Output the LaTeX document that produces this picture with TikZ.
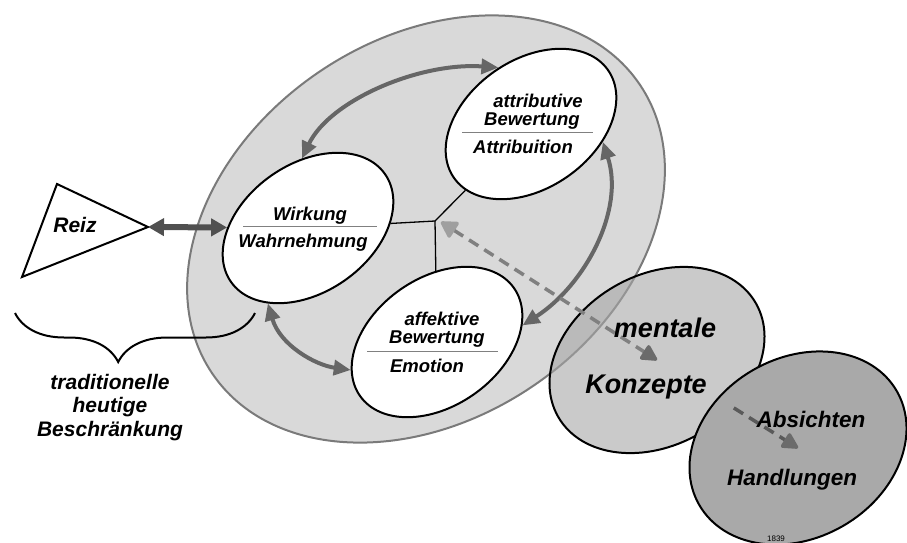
\documentclass[tikz,border=0pt]{standalone}
\usepackage{fontspec}
\setmainfont{Liberation Sans}
\usetikzlibrary{shapes.geometric,arrows.meta,decorations.pathreplacing}

\definecolor{bgell}{HTML}{D9D9D9}
\definecolor{rimgray}{HTML}{7A7A7A}
\definecolor{arcgray}{HTML}{666666}
\definecolor{reizgray}{HTML}{505050}
\definecolor{konzfill}{HTML}{A6A6A6}
\definecolor{handfill}{HTML}{A9A9A9}
\definecolor{dashgray}{HTML}{808080}
\definecolor{dashdark}{HTML}{5A5A5A}

\begin{document}
\begin{tikzpicture}[x=1pt,y=-1pt,
	ell/.style={ellipse,draw=black,line width=2pt,fill=white,inner sep=0pt,minimum width=188pt,minimum height=128pt,rotate=35},
	lbl/.style={font=\fontsize{18.5}{20}\selectfont\bfseries\itshape,anchor=base,inner sep=0pt},
	bigarc/.style={draw=arcgray,line width=4pt,{Triangle[length=17pt,width=15pt]}-{Triangle[length=17pt,width=15pt]}},
	dasharc/.style={line width=3.5pt,dash pattern=on 11pt off 7pt}]
			\useasboundingbox (0,0) rectangle (907,543);

			\node[ellipse,draw=rimgray,line width=2pt,fill=bgell,inner sep=0pt,minimum width=516pt,minimum height=380pt,rotate=34] (psyche) at (426,229) {};

			\node[ell] (wirk) at (308,228) {};
			\node[ell] (attr) at (531,124) {};
			\node[ell] (affekt) at (437,342) {};

			\coordinate (J) at (435,221);
			\draw[line width=1.3pt] (wirk) -- (J) -- (attr);
			\draw[line width=1.3pt] (J) -- (affekt);

			\draw[bigarc] (wirk.60) .. controls (330,100) and (420,62) .. (attr.85);
			\draw[bigarc] (attr.-49) .. controls (625,210) and (585,285) .. (affekt.-24);
			\draw[bigarc] (wirk.207) .. controls (280,345) and (315,365) .. (affekt.163);

			% Reiz
			\draw[line width=2pt] (57,184) -- (148,227) coordinate (reiztip) -- (22,277) -- cycle;
			\node[lbl,font=\fontsize{21}{22}\selectfont\bfseries\itshape] (reiz) at (75,232) {Reiz};
			\draw[draw=reizgray,line width=6pt,{Triangle[length=16pt,width=17pt]}-{Triangle[length=16pt,width=17pt]}] (reiztip) -- (wirk);

			\draw[line width=2pt,decorate,decoration={brace,mirror,amplitude=49pt,aspect=0.43}] (15,313) -- (255,313);
			\node[font=\fontsize{21}{23.5}\selectfont\bfseries\itshape,align=center,anchor=base,inner sep=0pt] (grenze) at (110,436) {traditionelle\\heutige\\Beschr\"ankung};

			\node[lbl] (wirk1) at (310,220) {Wirkung};
			\node[lbl] (wirk2) at (303,247) {Wahrnehmung};
			\draw[gray,line width=0.8pt] (243,226) -- (377,226);

			\node[lbl] (attr1) at (538,107) {attributive};
			\node[lbl] (attr2) at (532,125) {Bewertung};
			\node[lbl] (attr3) at (523,153) {Attribuition};
			\draw[gray,line width=0.8pt] (462,132) -- (593,132);

			\node[lbl] (affekt1) at (442,325) {affektive};
			\node[lbl] (affekt2) at (437,343) {Bewertung};
			\node[lbl] (affekt3) at (427,372) {Emotion};
			\draw[gray,line width=0.8pt] (367,351) -- (498,351);

			\node[ellipse,draw=black,line width=2pt,fill=konzfill,fill opacity=0.6,inner sep=0pt,minimum width=228pt,minimum height=170pt,rotate=30] (konz) at (657,360) {};
			\node[ellipse,draw=black,line width=2pt,fill=handfill,inner sep=0pt,minimum width=228pt,minimum height=180pt,rotate=30] (handl) at (798,448) {};

			\coordinate (dA) at (441,222);
			\draw[dasharc,draw=dashgray,{Triangle[round,length=18pt,width=20pt,color=gray!75]}-{Triangle[round,length=18pt,width=18pt,color=dashdark!90]}] (dA) -- (konz.center);
			\draw[dasharc,draw=dashdark,-{Triangle[round,length=18pt,width=18pt,color=dashdark!90]}] (konz) -- (handl.center);

			\node[lbl,font=\fontsize{27}{28}\selectfont\bfseries\itshape] (konz1) at (665,337) {mentale};
			\node[lbl,font=\fontsize{27}{28}\selectfont\bfseries\itshape] (konz2) at (646,393) {Konzepte};
			\node[lbl,font=\fontsize{22.5}{24}\selectfont\bfseries\itshape] (handl1) at (811,427) {Absichten};
			\node[lbl,font=\fontsize{22.5}{24}\selectfont\bfseries\itshape] (handl2) at (792,485) {Handlungen};
			\node[anchor=base,inner sep=0pt,font=\fontsize{8}{8}\selectfont] (nr) at (776,541) {1839};
		\end{tikzpicture}
\end{document}
